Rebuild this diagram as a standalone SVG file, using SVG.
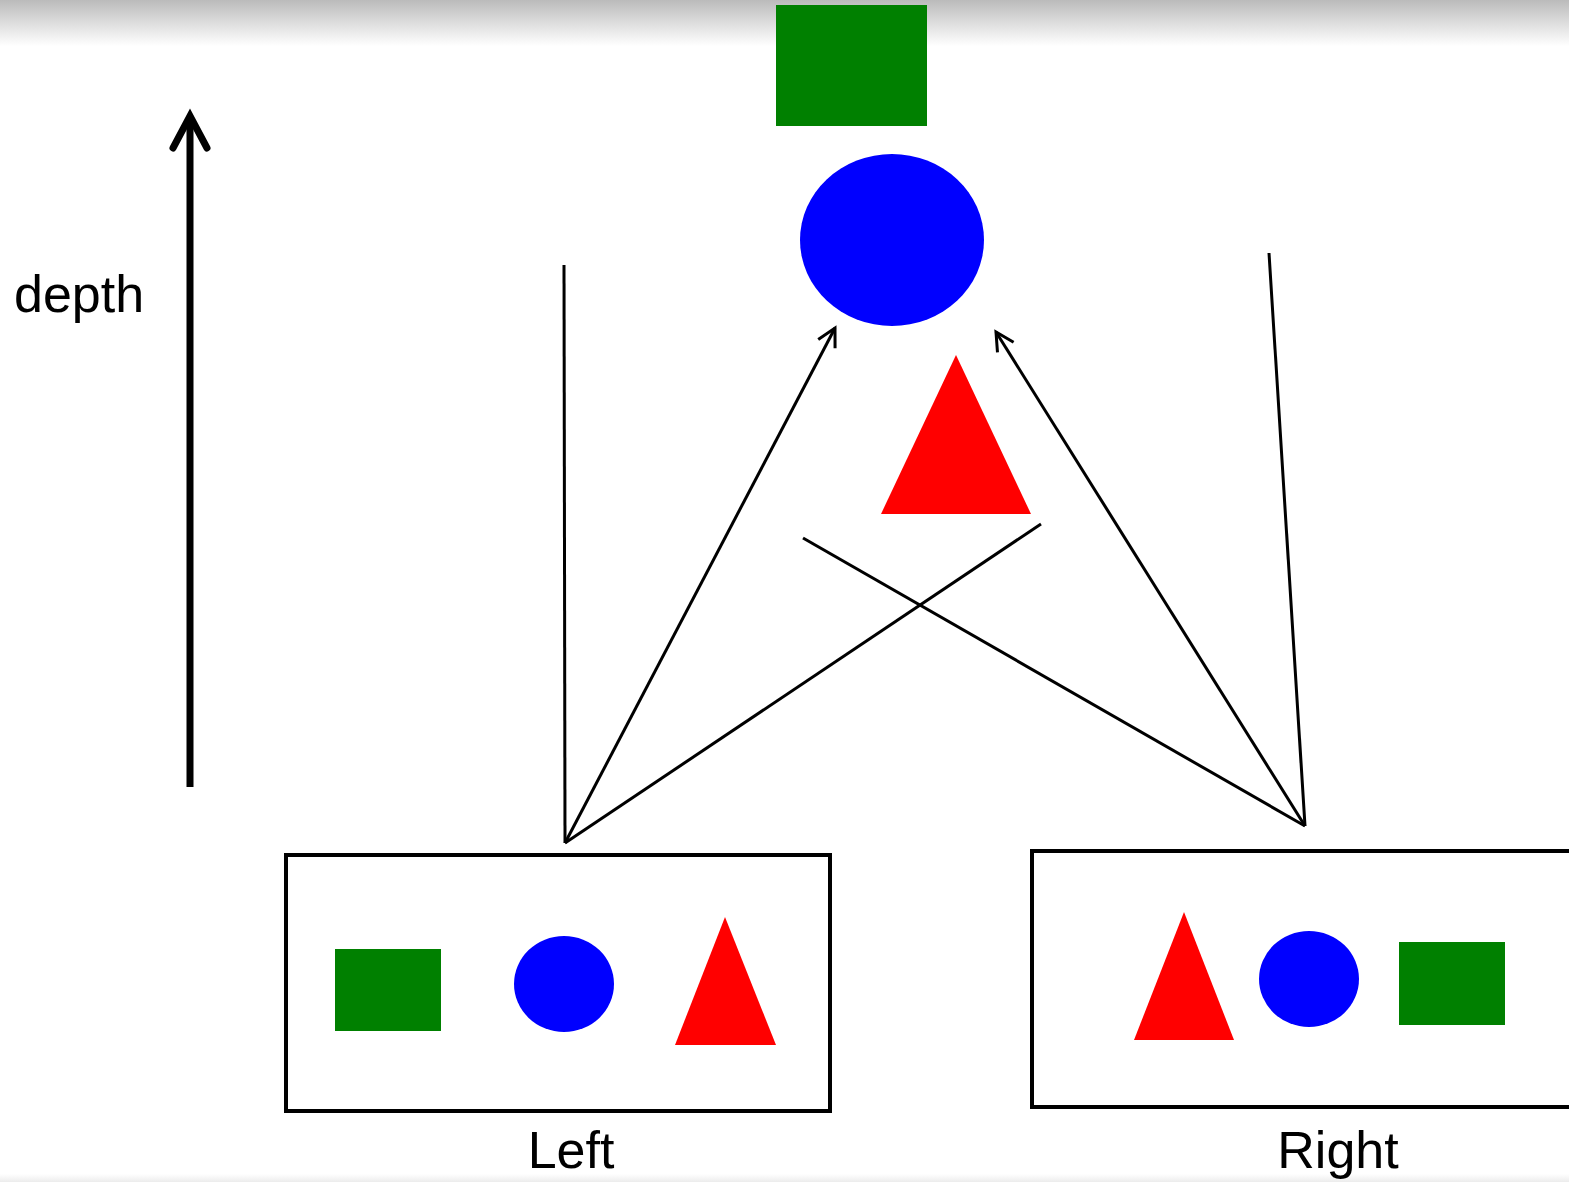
<svg xmlns="http://www.w3.org/2000/svg" width="1569" height="1182" viewBox="0 0 1569 1182">
<style>
.g{fill:#008000}.b{fill:#0000ff}.r{fill:#ff0000}
.box{fill:none;stroke:#000;stroke-width:4}
.ln{stroke:#000;stroke-width:3;fill:none}
.t{font-family:"Liberation Sans",Arial,sans-serif;font-size:52px;fill:#000}
</style>
<defs>
<linearGradient id="top" x1="0" y1="0" x2="0" y2="1">
<stop offset="0" stop-color="#bbbbbb"/><stop offset="1" stop-color="#ffffff"/>
</linearGradient>
<linearGradient id="bot" x1="0" y1="0" x2="0" y2="1">
<stop offset="0" stop-color="#ffffff"/><stop offset="1" stop-color="#ececec"/>
</linearGradient>
<marker id="ah" markerUnits="userSpaceOnUse" markerWidth="30" markerHeight="30" viewBox="-25 -15 30 30" refX="0" refY="0" orient="auto">
<path d="M -18 -9.5 L 0 0 L -18 9.5" fill="none" stroke="#000" stroke-width="3"/>
</marker>
</defs>
<rect width="1569" height="1182" fill="#fff"/>
<rect x="0" y="0" width="1569" height="46" fill="url(#top)"/>
<rect x="0" y="1174" width="1569" height="8" fill="url(#bot)"/>
<g id="depth-axis">
<line x1="190" y1="787" x2="190" y2="116" stroke="#000" stroke-width="7"/>
<path d="M 173 148 L 190 116 L 207 148" fill="none" stroke="#000" stroke-width="7" stroke-linecap="round" stroke-linejoin="miter"/>
<text class="t" x="14" y="312">depth</text>
</g>
<g id="center-square"><rect class="g" x="776" y="5" width="151" height="121"/></g>
<g id="center-circle"><ellipse class="b" cx="892" cy="240" rx="92" ry="86"/></g>
<g id="center-triangle"><polygon class="r" points="956,355 881,514 1031,514"/></g>
<g id="left-view">
<rect class="box" x="286" y="855" width="544" height="256"/>
<rect class="g" x="335" y="949" width="106" height="82"/>
<ellipse class="b" cx="564" cy="984" rx="50" ry="48"/>
<polygon class="r" points="725,917 675,1045 776,1045"/>
<text class="t" x="571" y="1168" text-anchor="middle">Left</text>
</g>
<g id="right-view">
<rect class="box" x="1032" y="851" width="560" height="256"/>
<polygon class="r" points="1184,912 1134,1040 1234,1040"/>
<ellipse class="b" cx="1309" cy="979" rx="50" ry="48"/>
<rect class="g" x="1399" y="942" width="106" height="83"/>
<text class="t" x="1338" y="1168" text-anchor="middle">Right</text>
</g>
<g id="connectors">
<line class="ln" x1="565" y1="843" x2="564" y2="265"/>
<line class="ln" x1="565" y1="843" x2="835" y2="328" marker-end="url(#ah)"/>
<line class="ln" x1="565" y1="843" x2="1041" y2="524"/>
<line class="ln" x1="1305" y1="826" x2="1269" y2="253"/>
<line class="ln" x1="1305" y1="826" x2="803" y2="538"/>
<line class="ln" x1="1305" y1="826" x2="996" y2="332" marker-end="url(#ah)"/>
</g>
</svg>
